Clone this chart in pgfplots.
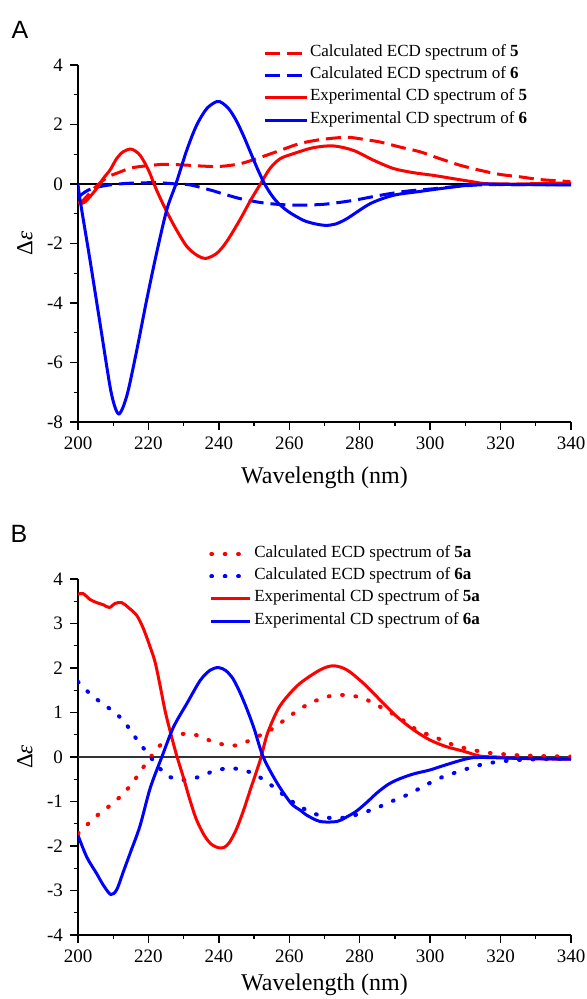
\documentclass[border=0pt]{standalone}
\usepackage{fontspec}
\setmainfont{Liberation Serif}
\newfontfamily\arial{Liberation Sans}
\usepackage{pgfplots}
\pgfplotsset{compat=1.18}

\pgfplotsset{
  cdax/.style={
    scale only axis, width=246.5pt,
    xmin=200, xmax=340, xtick={200,220,...,340}, minor x tick num=1,
    axis lines=left, axis line style={-, line width=0.9pt},
    tick align=outside, major tick length=4pt, minor tick length=2pt,
    tick style={black, line width=0.7pt},
    /pgf/number format/assume math mode=true,
    tick label style={font=\fontsize{9.5}{10}\selectfont},
    xlabel={Wavelength (nm)}, ylabel={Δ\textit{ε}},
    xlabel style={font=\fontsize{12}{14}\selectfont, at={(axis description cs:0.5,-0.155)}, anchor=center},
    ylabel style={font=\fontsize{11.5}{13}\selectfont, at={(axis description cs:-0.1075,0.5)}, anchor=center},
    legend cell align=left,
    legend style={draw=none, fill=none, inner sep=0pt, outer sep=0pt, row sep=0pt, column sep=1pt,
      font=\fontsize{8.5}{10}\selectfont, nodes={inner sep=0pt, text height=7.15pt, text depth=4pt}},
  },
  calc/.style={smooth, tension=0.5, line width=1.5pt, dash pattern=on 7.5pt off 3.5pt},
  dots/.style={smooth, tension=0.5, line width=2pt, line cap=round, dash pattern=on 0.4pt off 6.3pt},
  expt/.style={smooth, tension=0.5, line width=1.5pt},
}

\begin{document}
\begin{tikzpicture}
\useasboundingbox (0,0) rectangle (293.5pt,499.5pt);
\node[font=\arial\fontsize{12.5}{14}\selectfont] at (10pt,484.75pt) {A};
\node[font=\arial\fontsize{12.5}{14}\selectfont] at (9.5pt,232.5pt) {B};

% panel A
\begin{axis}[cdax, at={(39pt,288.5pt)}, anchor=south west, height=178.5pt,
  ymin=-8, ymax=4, ytick={-8,-6,...,4}, minor y tick num=1,
  legend image code/.code={\draw[#1] (0pt,0pt) -- (21pt,0pt);},
  legend style={at={(axis description cs:0.3753,1.0644)}, anchor=north west}]
\addplot[black, line width=0.8pt, forget plot] coordinates {(200,0) (340,0)};
\addplot[red, calc] coordinates {
(200,-0.62) (201,-0.6) (203.4,-0.3) (205,-0.1) (207.2,0.13) (209,0.27) (211,0.36)
(214.8,0.53) (218.6,0.6) (224.2,0.66) (229.9,0.64) (235.6,0.6) (240.3,0.59) (246,0.68)
(251.7,0.89) (257.4,1.13) (263,1.36) (268.7,1.49) (274.4,1.56) (277,1.57) (280.1,1.52)
(285.8,1.41) (291.5,1.24) (297.2,1.08) (302.8,0.85) (308.5,0.63) (314.2,0.46) (319.9,0.32)
(325.6,0.24) (331.2,0.15) (339.8,0.08)};
\addlegendentry{Calculated ECD spectrum of \textbf{5}}
\addplot[blue, calc] coordinates {
(200,-0.45) (201.5,-0.31) (203,-0.2) (205.3,-0.11) (209.1,-0.03) (213.8,0.02) (218.6,0.04)
(223.3,0.04) (228,0) (231.8,-0.03) (237.5,-0.2) (240.3,-0.3) (243.2,-0.4) (246,-0.49)
(251.7,-0.62) (257.4,-0.69) (263,-0.71) (270,-0.68) (278.2,-0.55) (285.8,-0.38) (293.4,-0.24)
(301,-0.16) (308.5,-0.07) (316.1,-0.02) (325,-0.02) (340,-0.02)};
\addlegendentry{Calculated ECD spectrum of \textbf{6}}
\addplot[red, expt] coordinates {
(200,-0.59) (201,-0.65) (202,-0.6) (203.4,-0.43) (205.3,-0.15) (207.2,0.19) (209.1,0.47)
(211,0.86) (212.9,1.09) (215.2,1.17) (217.6,0.97) (220,0.47) (222.3,-0.2) (225.2,-0.93)
(228,-1.55) (230.9,-2.1) (233.7,-2.39) (236.3,-2.5) (239.4,-2.33) (242.2,-1.94) (246,-1.2)
(249,-0.55) (251.8,0) (254.5,0.52) (257.4,0.85) (261.2,1.02) (266.8,1.22) (272.5,1.28)
(278.2,1.13) (283.9,0.8) (289.6,0.52) (295.3,0.38) (300.9,0.29) (306.6,0.18) (312.3,0.07)
(316.1,0.01) (325,0) (332,0.02) (340,0.03)};
\addlegendentry{Experimental CD spectrum of \textbf{5}}
\addplot[blue, expt] coordinates {
(200,0) (200.6,-0.54) (203.4,-2.55) (206.25,-4.68) (209.1,-6.81) (210.5,-7.5) (211.6,-7.73)
(212.8,-7.5) (214.3,-6.92) (216.7,-5.58) (219.5,-3.9) (222.3,-2.33) (225.2,-0.87) (227.8,0)
(230.9,1.14) (233.7,1.98) (236.6,2.54) (239.4,2.77) (241,2.72) (243,2.5) (245,2.12)
(247,1.62) (249,1.06) (251,0.5) (253,0) (255,-0.38) (257,-0.66) (260,-0.95) (264,-1.22)
(267,-1.33) (270.2,-1.39) (273,-1.35) (276.3,-1.17) (283,-0.66) (289.6,-0.38) (297.1,-0.25)
(306.6,-0.1) (314.2,-0.01) (325,-0.02) (340,-0.03)};
\addlegendentry{Experimental CD spectrum of \textbf{6}}
\end{axis}

% panel B
\begin{axis}[cdax, at={(39pt,32pt)}, anchor=south west, height=178pt,
  ymin=-4, ymax=4, ytick={-4,-3,...,4}, minor y tick num=1,
  xlabel style={at={(axis description cs:0.5,-0.14)}},
  legend image code/.code={\draw[#1] (0pt,0pt) -- (19.5pt,0pt);},
  legend style={at={(axis description cs:0.2663,1.1011)}, anchor=north west}]
\addplot[black!80, line width=0.8pt, forget plot] coordinates {(200,0) (340,0)};
\addplot[red, dots] coordinates {
(200,-1.72) (202.9,-1.5) (206.25,-1.26) (209.6,-1.06) (212.9,-0.82) (215.7,-0.56) (218.1,-0.28)
(220.3,-0.04) (222.8,0.22) (226.1,0.45) (229.9,0.52) (233.7,0.49) (238.4,0.34) (242.7,0.26)
(246,0.28) (250.7,0.45) (254.5,0.6) (257.4,0.76) (261.2,0.98) (265.9,1.21) (271.6,1.37)
(276.3,1.39) (281,1.32) (285.8,1.13) (291.5,0.87) (296.2,0.61) (301,0.46) (306.6,0.27)
(311.4,0.17) (316.1,0.1) (319.9,0.07) (324.6,0.04) (332.2,0.02) (340,0.01)};
\addlegendentry{Calculated ECD spectrum of \textbf{5a}}
\addplot[blue, dots] coordinates {
(200,1.69) (202.9,1.46) (206.25,1.24) (209.6,1.05) (212.9,0.82) (215.2,0.56) (217.6,0.3)
(220.2,0.04) (222.8,-0.22) (226.1,-0.45) (230.4,-0.52) (234.2,-0.45) (238.4,-0.32) (242.7,-0.25)
(246,-0.28) (249.8,-0.37) (253.6,-0.56) (257.4,-0.79) (260.2,-0.97) (265,-1.2) (268.5,-1.31)
(272.5,-1.38) (276.5,-1.35) (280.1,-1.27) (284.8,-1.15) (287.7,-1.04) (292.4,-0.89) (296.2,-0.74)
(300,-0.58) (303.8,-0.44) (307.6,-0.34) (311.8,-0.23) (315.2,-0.16) (319.9,-0.1) (324.6,-0.07)
(331.3,-0.05) (340,-0.04)};
\addlegendentry{Calculated ECD spectrum of \textbf{6a}}
\addplot[red, expt] coordinates {
(200,3.66) (201.5,3.67) (203.4,3.54) (205.3,3.47) (207.2,3.42) (208.9,3.36) (210.5,3.45)
(212.4,3.47) (214.3,3.36) (216.7,3.18) (218.6,2.88) (220.5,2.47) (221.9,2.13) (223.3,1.61)
(224.7,1.05) (226.1,0.6) (228,0.04) (229.9,-0.45) (231.8,-0.97) (233.7,-1.42) (236,-1.78)
(238,-1.97) (240,-2.04) (241.5,-2.03) (243,-1.92) (245,-1.62) (247,-1.2) (249,-0.72)
(251,-0.25) (252,0) (253.8,0.53) (256.7,1.06) (259.3,1.35) (263.1,1.66) (268.8,1.96)
(272.5,2.05) (276.3,1.96) (281,1.66) (285.8,1.28) (290.5,0.91) (295.3,0.61) (300,0.38)
(304.7,0.23) (309.5,0.13) (314.2,0.02) (318.9,0) (323.7,-0.03) (330,-0.04) (340,-0.05)};
\addlegendentry{Experimental CD spectrum of \textbf{5a}}
\addplot[blue, expt] coordinates {
(200,-1.76) (202.5,-2.25) (205.3,-2.62) (207.2,-2.88) (209.3,-3.09) (211,-2.98) (213,-2.55)
(215,-2.12) (217.6,-1.55) (220.5,-0.7) (223.8,0) (227.1,0.67) (230.9,1.2) (234.7,1.72)
(237.5,1.95) (239.9,2.01) (242,1.94) (244,1.76) (246,1.45) (248,1.07) (250,0.64) (252.6,0)
(256.5,-0.58) (260.5,-1.04) (263.2,-1.2) (265,-1.31) (268.8,-1.45) (273.5,-1.45) (276,-1.36)
(279,-1.22) (282,-1.02) (285,-0.8) (288,-0.62) (291,-0.5) (295.3,-0.38) (300,-0.29)
(304.7,-0.17) (310.4,-0.04) (314.2,-0.01) (325,-0.03) (340,-0.05)};
\addlegendentry{Experimental CD spectrum of \textbf{6a}}
\end{axis}
\end{tikzpicture}
\end{document}
